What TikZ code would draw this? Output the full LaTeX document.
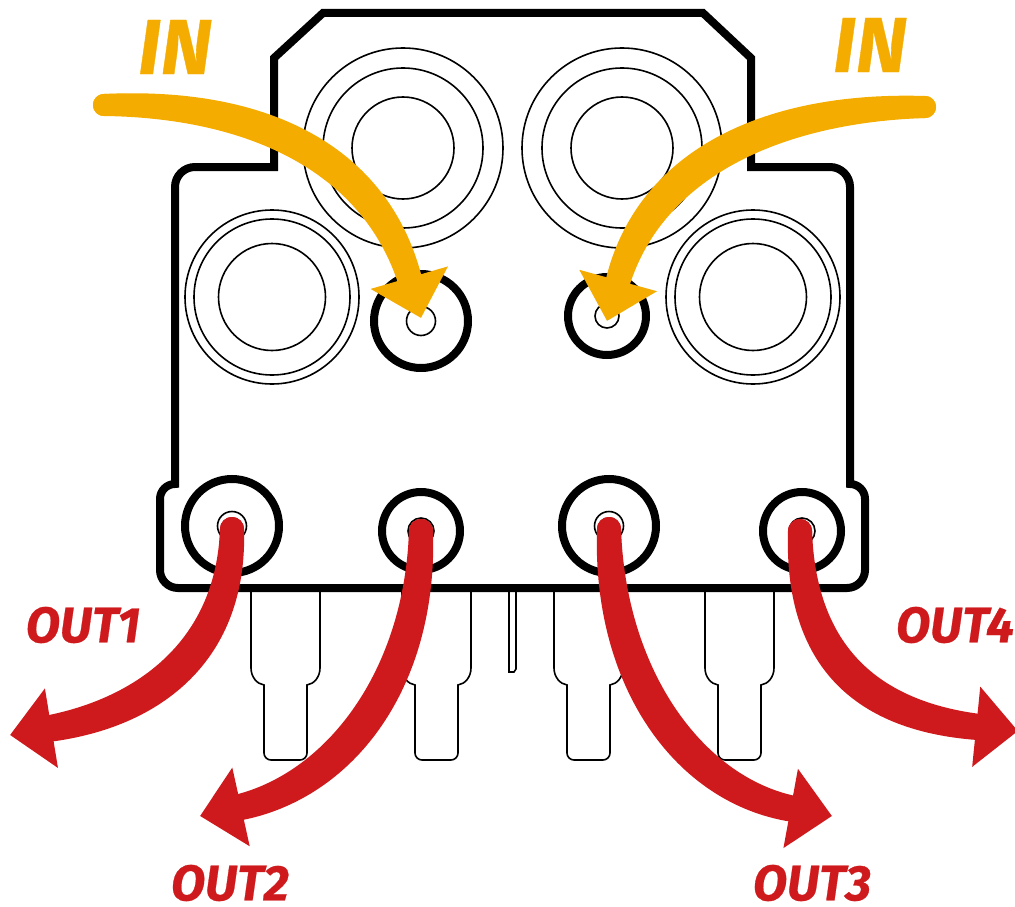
\documentclass[tikz,border=0pt]{standalone}
\usepackage{fontspec}
\setmainfont{Fira Sans}
\newfontfamily\labfont[BoldItalicFeatures={FakeBold=0.5}]{Fira Sans}
\usetikzlibrary{positioning, arrows.meta, calc}
\definecolor{inorange}{RGB}{245,172,0}
\definecolor{outred}{RGB}{206,26,28}
% one flow: the curve, plus two edges bowed out to each side of it
\newcommand{\flowcurve}[6]{
  \draw[#1, -, shorten >=40pt] #2 .. controls ($#3+(#6)$) and ($#4+(#6)$) .. #5;
  \draw[#1, -, shorten >=40pt] #2 .. controls ($#3-(#6)$) and ($#4-(#6)$) .. #5;
  \draw[#1] #2 .. controls #3 and #4 .. #5;
}

\begin{document}
\begin{tikzpicture}[x=1pt, y=-1pt,
          bore/.style={circle, draw=black, line width=1.6pt, inner sep=0pt},
          port/.style={circle, draw=black, line width=8pt, inner sep=0pt},
          hole/.style={circle, draw=black, line width=1.6pt, fill=white, inner sep=0pt},
          blade/.style={draw=black, line width=1.6pt, fill=white},
          inflow/.style={inorange, line width=22pt, line cap=round,
                    -{Triangle[length=42pt, width=78pt]}},
          outflow/.style={outred, line width=24pt, line cap=round,
                    -{Triangle[length=42pt, width=78pt]}},
          inlab/.style={text=inorange, font=\fontsize{78}{78}\selectfont\labfont\bfseries\itshape, inner sep=0pt},
          outlab/.style={text=outred, font=\fontsize{50}{50}\selectfont\labfont\bfseries\itshape, inner sep=0pt}]
        \useasboundingbox (0,0) rectangle (1015,907);
        % terminals below the body
        \foreach \tx in {251,402,554,705} {
          \draw[blade] (\tx,585) -- (\tx,668) .. controls (\tx,677) and (\tx+6,684) .. (\tx+13,685)
              [rounded corners=7pt] -- (\tx+13,760) -- (\tx+56,760) [sharp corners] -- (\tx+56,685)
              .. controls (\tx+63,684) and (\tx+69,677) .. (\tx+69,668) -- (\tx+69,585);
        }
        \draw[blade] (509,585) -- (509,672) -- (514,672) -- (516,669) -- (516,585);
        % body
        \draw[line width=8pt, line join=miter, fill=white] (274,167) -- (274,58) -- (323,13) -- (703,13)
            -- (751,58) -- (751,167) [rounded corners=20pt] -- (850,167) [sharp corners] -- (850,484)
            [rounded corners=15pt] -- (865,484) [rounded corners=18pt] -- (865,588) -- (160,588)
            [rounded corners=15pt] -- (160,484) [sharp corners] -- (175,484)
            [rounded corners=20pt] -- (175,167) [sharp corners] -- cycle;
        % bores
        \foreach \bx/\bn in {403/a, 622/b} {
          \node[bore, minimum size=200pt] (\bn1) at (\bx,148) {};
          \node[bore, minimum size=160pt] (\bn2) at (\bx,148) {};
          \node[bore, minimum size=102pt] (\bn3) at (\bx,148) {};
        }
        \foreach \bx/\bn in {272/c, 753/d} {
          \node[bore, minimum size=174pt] (\bn1) at (\bx,297) {};
          \node[bore, minimum size=156pt] (\bn2) at (\bx,297) {};
          \node[bore, minimum size=107pt] (\bn3) at (\bx,297) {};
        }
        % ports
        \node[port, minimum size=94pt] (pi1) at (421,321) {};
        \node[hole, minimum size=29pt] (hi1) at (421,321) {};
        \node[port, minimum size=78pt] (pi2) at (607,316) {};
        \node[hole, minimum size=24pt] (hi2) at (607,316) {};
        \node[port, minimum size=94pt] (po1) at (232,526) {};
        \node[hole, minimum size=29pt] (ho1) at (232,526) {};
        \node[port, minimum size=78pt] (po2) at (421,531) {};
        \node[hole, minimum size=26pt] (ho2) at (421,531) {};
        \node[port, minimum size=94pt] (po3) at (609,526) {};
        \node[hole, minimum size=29pt] (ho3) at (609,526) {};
        \node[port, minimum size=78pt] (po4) at (802,531) {};
        \node[hole, minimum size=26pt] (ho4) at (802,531) {};
        % free ends
        \coordinate (si1) at (104,105);
        \coordinate (si2) at (925,107);
        \coordinate (eo1) at (10,735);
        \coordinate (eo2) at (200,816);
        \coordinate (eo3) at (832,816);
        \coordinate (eo4) at (1018,731);
        % flows
        \flowcurve{inflow}{(si1)}{(260,102)}{(375,160)}{([yshift=3pt]hi1.center)}{4,-5}
        \flowcurve{inflow}{(si2)}{(770,107)}{(650,165)}{([yshift=-5pt]hi2.center)}{4,5}
        \flowcurve{outflow}{([yshift=-3pt]ho1.center)}{(232,650)}{(150,712)}{(eo1)}{4,4}
        \flowcurve{outflow}{(ho2.center)}{(421,680)}{(340,785)}{(eo2)}{5,3}
        \flowcurve{outflow}{([yshift=-3pt]ho3.center)}{(609,680)}{(690,790)}{(eo3)}{-5,3}
        \flowcurve{outflow}{([xshift=-2pt]ho4.center)}{(800,650)}{(860,715)}{(eo4)}{-4,4}
        % labels
        \node[inlab] (li1) at (175,47) {IN};
        \node[inlab] (li2) at (870,45) {IN};
        \node[outlab] (lo1) at (83,625) {OUT1};
        \node[outlab] (lo2) at (230,883) {OUT2};
        \node[outlab] (lo3) at (812,883) {OUT3};
        \node[outlab] (lo4) at (955,625) {OUT4};
      \end{tikzpicture}
\end{document}
